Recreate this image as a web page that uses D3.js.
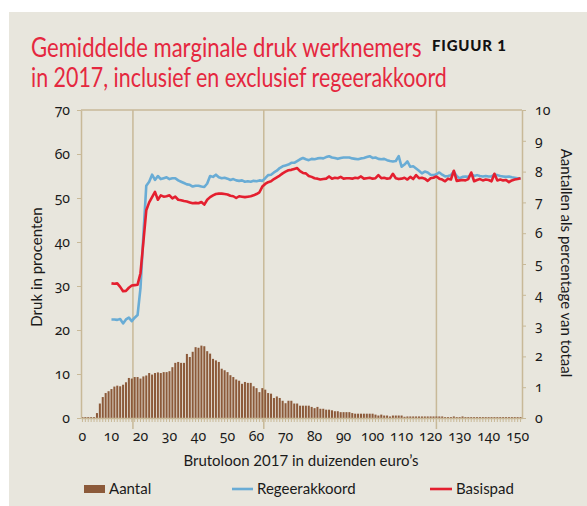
<!DOCTYPE html>
<html lang="nl">
<head>
<meta charset="UTF-8">
<title>Gemiddelde marginale druk werknemers</title>
<style>
  body { margin: 0; background: #fff; }
  svg text { font-family: Lato, "Open Sans", sans-serif; fill: #1a1a1a; }
  .axis text { font-family: "Noto Sans", Lato, sans-serif; font-variant-numeric: oldstyle-nums; }
  .axis path, .axis line { stroke: #c8b998; }
</style>
</head>
<body>
<svg id="chart" width="587" height="506"></svg>
<script src="https://cdn.jsdelivr.net/npm/d3@7"></script>
<script>
// brutoloon in duizenden euro's, one category per 1000
const categories = d3.range(0, 152);
const xTickLabels = [0, 10, 20, 30, 40, 50, 60, 70, 80, 90, 100, 110, 120, 130, 140, 150];
const leftTicks = [0, 10, 20, 30, 40, 50, 60, 70];
const rightTicks = [0, 1, 2, 3, 4, 5, 6, 7, 8, 9, 10];
const markers = [17.4, 62.5, 122];

// aantal als percentage van totaal (right axis)
const aantal = [
  0.03, 0.03, 0.03, 0.03, 0.03, 0.16, 0.47, 0.68, 0.81, 0.87,
  0.94, 1.02, 1.05, 1.03, 1.08, 1.16, 1.30, 1.28, 1.33, 1.33,
  1.28, 1.35, 1.38, 1.46, 1.41, 1.46, 1.48, 1.46, 1.49, 1.49,
  1.52, 1.65, 1.79, 1.82, 1.79, 1.79, 2.08, 1.98, 2.15, 2.30,
  2.28, 2.35, 2.33, 2.17, 2.09, 1.92, 1.87, 1.82, 1.60, 1.55,
  1.49, 1.39, 1.33, 1.25, 1.21, 1.11, 1.17, 1.14, 1.14, 1.03,
  0.97, 0.84, 0.97, 0.92, 0.81, 0.79, 0.65, 0.70, 0.65, 0.56,
  0.48, 0.56, 0.56, 0.47, 0.47, 0.40, 0.40, 0.40, 0.40, 0.36,
  0.32, 0.36, 0.30, 0.30, 0.27, 0.27, 0.25, 0.22, 0.22, 0.19,
  0.19, 0.19, 0.19, 0.16, 0.14, 0.14, 0.14, 0.14, 0.14, 0.14,
  0.14, 0.11, 0.08, 0.11, 0.08, 0.08, 0.05, 0.08, 0.08, 0.08,
  0.08, 0.04, 0.05, 0.05, 0.05, 0.05, 0.05, 0.05, 0.05, 0.05,
  0.05, 0.05, 0.05, 0.05, 0.05, 0.03, 0.03, 0.03, 0.05, 0.03,
  0.03, 0.05, 0.03, 0.03, 0.03, 0.03, 0.03, 0.03, 0.03, 0.03,
  0.03, 0.03, 0.03, 0.03, 0.03, 0.03, 0.03, 0.03, 0.03, 0.03,
  0.03, 0.03
];

// marginale druk in procenten, from 10 (duizend euro) onwards
const lineStart = 10;
const regeerakkoord = [
  22.4, 22.4, 22.3, 22.5, 21.5, 22.4, 22.8, 22.0, 22.8, 23.4,
  29.5, 41.5, 52.8, 53.7, 55.3, 54.1, 55.0, 54.3, 54.5, 54.7,
  54.3, 54.5, 54.5, 54.0, 53.7, 53.4, 53.1, 53.0, 52.6, 52.8,
  52.8, 52.6, 52.5, 53.3, 55.0, 54.8, 55.3, 54.7, 54.5, 54.6,
  54.4, 54.1, 54.3, 54.0, 53.9, 54.0, 53.7, 53.8, 53.7, 53.9,
  53.8, 54.0, 53.9, 54.5, 55.2, 55.3, 55.8, 56.2, 56.8, 57.2,
  57.4, 57.6, 58.0, 58.0, 58.4, 58.8, 59.1, 58.8, 58.6, 58.9,
  58.8, 59.0, 59.1, 59.0, 59.3, 59.5, 59.2, 59.1, 58.9, 59.1,
  59.2, 59.2, 59.2, 59.0, 58.9, 58.8, 59.0, 59.1, 59.3, 59.5,
  59.1, 59.2, 58.9, 58.8, 58.9, 58.6, 58.4, 58.3, 58.4, 59.5,
  57.1, 57.6, 58.3, 57.1, 57.2, 56.7, 56.2, 55.6, 56.0, 55.8,
  55.3, 55.2, 55.4, 55.8, 55.3, 54.9, 55.0, 55.2, 56.0, 55.0,
  54.5, 54.8, 54.9, 54.8, 55.5, 55.0, 55.2, 55.0, 54.9, 55.0,
  54.9, 54.9, 55.3, 55.2, 55.0, 54.9, 54.8, 54.9, 54.7, 54.6,
  54.5, 54.5
];
const basispad = [
  30.6, 30.5, 30.6, 29.8, 28.8, 28.9, 29.6, 30.1, 30.2, 30.3,
  32.9, 40.0, 47.2, 49.0, 50.2, 51.4, 49.6, 50.6, 50.3, 50.4,
  50.6, 49.9, 50.3, 49.6, 49.5, 49.3, 49.2, 49.0, 48.8, 48.9,
  48.8, 49.1, 48.5, 49.6, 50.2, 50.6, 50.9, 51.0, 51.0, 50.9,
  50.8, 50.5, 50.4, 50.0, 50.4, 50.3, 50.2, 50.3, 50.4, 50.6,
  50.9, 51.3, 52.6, 53.2, 53.6, 53.8, 54.3, 54.7, 55.1, 55.6,
  56.0, 56.3, 56.4, 56.6, 56.8, 56.1, 55.7, 55.6, 55.0, 54.8,
  54.5, 54.4, 54.2, 54.3, 54.4, 54.9, 54.4, 54.6, 54.5, 54.8,
  54.4, 54.5, 54.5, 54.4, 54.6, 54.5, 54.9, 54.4, 54.5, 54.6,
  54.4, 54.5, 55.2, 54.5, 54.6, 54.4, 54.5, 55.5, 54.5, 54.3,
  54.4, 54.6, 54.2, 54.8, 54.3, 55.2, 54.5, 54.6, 54.4, 53.9,
  54.5, 54.6, 54.9, 54.4, 54.2, 53.8, 54.4, 54.2, 56.2, 53.9,
  54.0, 54.1, 54.0, 54.3, 55.8, 53.8, 54.1, 54.3, 54.0, 54.2,
  54.1, 53.8, 55.5, 54.0, 54.2, 54.0, 54.1, 53.6, 54.0, 54.2,
  54.3, 54.5
];

const colors = { bar: "#8c5a3a", blue: "#69acd5", red: "#e41f2f", axis: "#c8b998", title: "#e5283f" };
const plot = { left: 81, right: 522, top: 110, bottom: 418 };

const svg = d3.select("#chart");

svg.append("rect").attr("x", 9).attr("y", 12).attr("width", 578).attr("height", 494).attr("fill", "#e8e6dd");

// title, squeezed horizontally to the reference's narrow typeface
function titleLine(str, y, width) {
  const t = svg.append("text").attr("font-size", 27).attr("font-weight", 400)
    .style("fill", colors.title).text(str);
  const k = width / t.node().getComputedTextLength();
  t.attr("transform", `translate(31,${y}) scale(${k},1)`);
}
titleLine("Gemiddelde marginale druk werknemers", 57, 391);
titleLine("in 2017, inclusief en exclusief regeerakkoord", 87, 416);
svg.append("text").attr("x", 432).attr("y", 51).attr("font-size", 15).attr("font-weight", 900)
  .attr("letter-spacing", 0.8).style("fill", "#111").text("FIGUUR 1");

const x = d3.scaleBand().domain(categories).range([plot.left, plot.right]).paddingInner(0.3).paddingOuter(0.15);
const xc = d3.scaleLinear().domain([-0.5, categories.length - 0.5]).range([plot.left, plot.right]);
const yL = d3.scaleLinear().domain([0, 70]).range([plot.bottom, plot.top]);
const yR = d3.scaleLinear().domain([0, 10]).range([plot.bottom, plot.top]);

// frame top
svg.append("line").attr("x1", plot.left).attr("x2", plot.right).attr("y1", plot.top).attr("y2", plot.top)
  .attr("stroke", colors.axis).attr("stroke-width", 1.5);

// marker lines
svg.append("g").selectAll("line").data(markers).join("line")
  .attr("x1", d => xc(d)).attr("x2", d => xc(d))
  .attr("y1", plot.top).attr("y2", plot.bottom + 11)
  .attr("stroke", colors.axis).attr("stroke-width", 1.5);

// bars
svg.append("g").selectAll("rect").data(aantal).join("rect")
  .attr("x", (d, i) => x(categories[i]))
  .attr("width", x.bandwidth())
  .attr("y", d => yR(d))
  .attr("height", d => yR(0) - yR(d))
  .attr("fill", colors.bar);

// axes
const gl = svg.append("g").attr("class", "axis").attr("transform", `translate(${plot.left},0)`)
  .call(d3.axisLeft(yL).tickValues(leftTicks).tickSize(4).tickSizeOuter(0).tickPadding(7));
const gr = svg.append("g").attr("class", "axis").attr("transform", `translate(${plot.right},0)`)
  .call(d3.axisRight(yR).tickValues(rightTicks).tickSize(4).tickSizeOuter(0).tickPadding(9));
const gb = svg.append("g").attr("class", "axis").attr("transform", `translate(0,${plot.bottom})`)
  .call(d3.axisBottom(x).tickValues(categories).tickSize(4).tickSizeOuter(0).tickFormat(""));
const gbl = svg.append("g").attr("class", "axis").attr("transform", `translate(0,${plot.bottom})`)
  .call(d3.axisBottom(x).tickValues(xTickLabels).tickSize(0).tickPadding(13));
gbl.select(".domain").remove();
[gl, gr, gb].forEach(g => g.select(".domain").attr("stroke-width", 1.5));
[gl, gr, gbl].forEach(g => g.selectAll("text").attr("font-size", 14).attr("font-family", null));

// lines
const line = d3.line()
  .x((d, i) => x(categories[i + lineStart]) + x.bandwidth() / 2)
  .y(d => yL(d));
svg.append("path").datum(regeerakkoord).attr("d", line).attr("fill", "none")
  .attr("stroke", colors.blue).attr("stroke-width", 2.6).attr("stroke-linejoin", "round");
svg.append("path").datum(basispad).attr("d", line).attr("fill", "none")
  .attr("stroke", colors.red).attr("stroke-width", 2.6).attr("stroke-linejoin", "round");

// axis titles
svg.append("text").attr("transform", "translate(42,267) rotate(-90)").attr("text-anchor", "middle")
  .attr("font-size", 15).text("Druk in procenten");
svg.append("text").attr("transform", "translate(561,263) rotate(90)").attr("text-anchor", "middle")
  .attr("font-size", 15).text("Aantallen als percentage van totaal");
svg.append("text").attr("x", 301).attr("y", 466).attr("text-anchor", "middle")
  .attr("font-size", 15).text("Brutoloon 2017 in duizenden euro’s");

// legend
const legend = svg.append("g");
legend.append("rect").attr("x", 84).attr("y", 485).attr("width", 21).attr("height", 8).attr("fill", colors.bar);
legend.append("text").attr("x", 109).attr("y", 494).attr("font-size", 15).text("Aantal");
legend.append("line").attr("x1", 232).attr("x2", 253).attr("y1", 489).attr("y2", 489)
  .attr("stroke", colors.blue).attr("stroke-width", 2.6);
legend.append("text").attr("x", 257).attr("y", 494).attr("font-size", 15).text("Regeerakkoord");
legend.append("line").attr("x1", 430).attr("x2", 452).attr("y1", 489).attr("y2", 489)
  .attr("stroke", colors.red).attr("stroke-width", 2.6);
legend.append("text").attr("x", 456).attr("y", 494).attr("font-size", 15).text("Basispad");
</script>
</body>
</html>
